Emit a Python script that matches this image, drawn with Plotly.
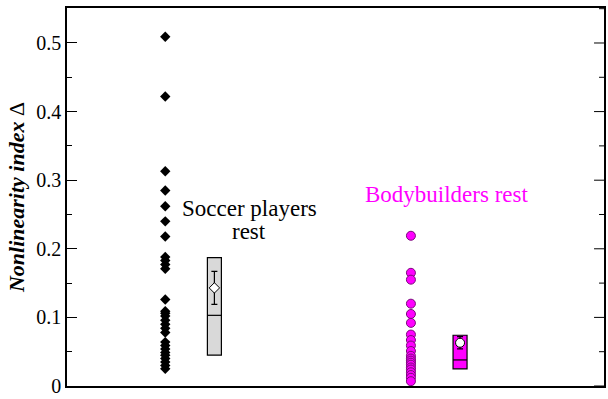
import plotly.graph_objects as go

# Nonlinearity index values per subject
soccer_vals = [0.509, 0.422, 0.313, 0.285, 0.262, 0.240, 0.218, 0.188, 0.183,
               0.177, 0.171, 0.126, 0.109, 0.106, 0.102, 0.096, 0.090, 0.084,
               0.078, 0.064, 0.059, 0.054, 0.049, 0.045, 0.040, 0.035, 0.030,
               0.025]
body_vals = [0.219, 0.165, 0.155, 0.120, 0.105, 0.092, 0.075, 0.067, 0.059,
             0.051, 0.044, 0.040, 0.037, 0.034, 0.031, 0.027, 0.024, 0.020,
             0.016, 0.012, 0.007]

# Group summaries: [soccer, bodybuilders]
group_pos = [1.0, 2.0]
q1 = [0.045, 0.025]
median = [0.103, 0.038]
q3 = [0.187, 0.074]
mean = [0.143, 0.063]
sem = [0.024, 0.009]

soccer_label = ["Soccer players", "rest"]
body_label = "Bodybuilders rest"
yticks = [0, 0.1, 0.2, 0.3, 0.4, 0.5]
ytick_text = ["0", "0.1", "0.2", "0.3", "0.4", "0.5"]

MAGENTA = "#FF00FF"
SERIF = "Liberation Serif"
box_off = 0.2
box_w = 0.057
YR = [0, 0.551]
PLOT_W = 608 - 67 - 2  # plot-area width in px

fig = go.Figure()

# individual points
fig.add_trace(go.Scatter(
    x=[group_pos[0]] * len(soccer_vals), y=soccer_vals, mode="markers",
    marker=dict(symbol="diamond", size=8, color="black"), showlegend=False))
fig.add_trace(go.Scatter(
    x=[group_pos[1]] * len(body_vals), y=body_vals, mode="markers",
    marker=dict(symbol="circle", size=9, color=MAGENTA,
                line=dict(color="#7a0a7a", width=1)), showlegend=False))

# boxes (q1..q3)
box_fill = ["#D9D9D9", MAGENTA]
fig.add_trace(go.Bar(
    x=[p + box_off for p in group_pos], base=q1,
    y=[b - a for a, b in zip(q1, q3)], width=box_w,
    marker=dict(color=box_fill, line=dict(color="black", width=1.2)),
    showlegend=False))

# median lines
for p, m in zip(group_pos, median):
    fig.add_trace(go.Scatter(
        x=[p + box_off - box_w / 2, p + box_off + box_w / 2], y=[m, m],
        mode="lines", line=dict(color="black", width=1.2), showlegend=False))

# means with standard error
mean_sym = ["diamond", "circle"]
mean_size = [8, 9]
for i in range(2):
    fig.add_trace(go.Scatter(
        x=[group_pos[i] + box_off], y=[mean[i]], mode="markers",
        error_y=dict(type="data", array=[sem[i]], color="black",
                     thickness=1.2, width=3),
        marker=dict(symbol=mean_sym[i], size=mean_size[i], color="white",
                    line=dict(color="black", width=1)),
        showlegend=False))

# group labels
for txt, yv in zip(soccer_label, [0.259, 0.2255]):
    fig.add_annotation(x=1.341, y=yv, text=txt, showarrow=False,
                       font=dict(family=SERIF, size=23, color="black"),
                       yanchor="middle")
fig.add_annotation(x=2.146, y=0.2797, text=body_label, showarrow=False,
                   font=dict(family=SERIF, size=23, color=MAGENTA),
                   yanchor="middle")

# tick marks along the right frame edge, pointing inward
minor_vals = [t + 0.05 for t in yticks if t + 0.05 < YR[1]]
for vals, length in ((yticks, 10), (minor_vals, 5)):
    for v in vals:
        fig.add_shape(type="line", xref="paper", yref="y",
                      x0=1, x1=1 - length / PLOT_W, y0=v, y1=v,
                      line=dict(color="black", width=1), layer="above")

minor_ticks = dict(dtick=0.05, ticks="inside", ticklen=5, tickcolor="black",
                   showgrid=False)

fig.update_layout(
    width=608, height=399,
    margin=dict(l=67, r=2, t=8, b=11),
    plot_bgcolor="white", paper_bgcolor="white",
    font=dict(family=SERIF, size=20, color="black"),
    barmode="overlay",
    xaxis=dict(range=[0.6, 2.786], showticklabels=False, showgrid=False,
               zeroline=False, showline=True, linecolor="black", linewidth=1.5,
               mirror=True, ticks=""),
    yaxis=dict(range=YR, tickvals=yticks, ticktext=ytick_text,
               ticks="inside", ticklen=10, tickwidth=1, tickcolor="black",
               minor=minor_ticks, showgrid=False, zeroline=False,
               showline=True, linecolor="black", linewidth=1.5, mirror=True,
               tickfont=dict(family=SERIF, size=20),
               title=dict(text="<b><i>Nonlinearity index</i></b> Δ",
                          font=dict(family=SERIF, size=22), standoff=6)),
)

fig.write_html("out.html")
